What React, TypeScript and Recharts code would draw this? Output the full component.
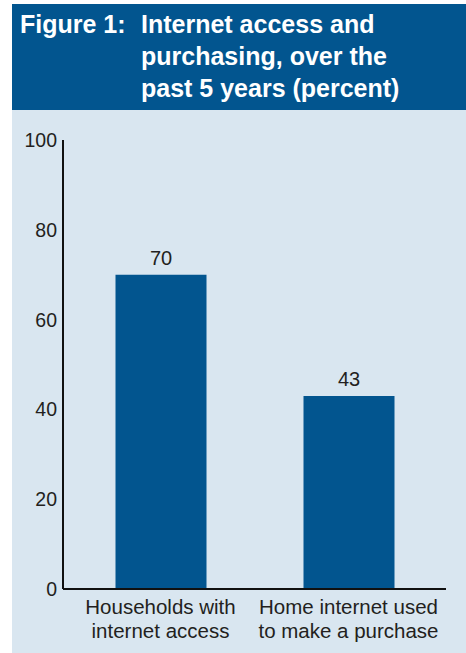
import { BarChart, Bar, XAxis, YAxis, LabelList } from 'recharts';

const categories = [
  ['Households with', 'internet access'],
  ['Home internet used', 'to make a purchase'],
];
const percentValues = [70, 43];
const yTicks = [0, 20, 40, 60, 80, 100];

const titleLead = 'Figure 1:';
const titleLines = ['Internet access and', 'purchasing, over the', 'past 5 years (percent)'];

const chartData = categories.map((lines, i) => ({
  name: lines.join(' '),
  lines,
  value: percentValues[i],
}));

const font = '"Liberation Sans", Arial, Helvetica, sans-serif';
const blue = '#02558f';
const textColor = '#231f20';

const CategoryTick = (props: any) => {
  const { x, y, payload, index } = props;
  const lines = chartData[index]?.lines ?? [payload.value];
  return (
    <text x={x} textAnchor="middle" fill={textColor} fontSize={20.5} fontFamily={font}>
      {lines.map((line: string, i: number) => (
        <tspan key={i} x={x} y={y + 25 + i * 24}>
          {line}
        </tspan>
      ))}
    </text>
  );
};

export default function App() {
  return (
    <div style={{ position: 'absolute', left: 0, top: 0, width: 466, height: 653, background: '#fff', fontFamily: font }}>
      <div style={{ position: 'absolute', left: 12, top: 4, width: 454, height: 106, background: blue, color: '#fff', fontWeight: 'bold', fontSize: 25, lineHeight: '32px' }}>
        <div style={{ position: 'absolute', left: 8, top: 4 }}>{titleLead}</div>
        <div style={{ position: 'absolute', left: 129, top: 4, whiteSpace: 'nowrap' }}>
          {titleLines.map((l) => (
            <div key={l}>{l}</div>
          ))}
        </div>
      </div>
      <div style={{ position: 'absolute', left: 12, top: 110, width: 454, height: 543, background: '#d9e6f0' }}>
        <BarChart width={454} height={543} data={chartData} margin={{ top: 30, right: 20, left: 0, bottom: 0 }}>
          <XAxis
            dataKey="name"
            height={64}
            interval={0}
            padding={{ left: 3.5, right: 3.5 }}
            tickLine={false}
            tickSize={0}
            tickMargin={0}
            axisLine={{ stroke: '#111', strokeWidth: 2 }}
            tick={<CategoryTick />}
          />
          <YAxis
            width={51}
            domain={[0, 100]}
            ticks={yTicks}
            interval={0}
            tickLine={false}
            tickSize={0}
            tickMargin={6}
            axisLine={{ stroke: '#111', strokeWidth: 2 }}
            tick={{ fill: textColor, fontSize: 19.5, fontFamily: font }}
          />
          <Bar dataKey="value" fill={blue} barSize={91} isAnimationActive={false}>
            <LabelList dataKey="value" position="top" offset={10} fill={textColor} fontSize={20} fontFamily={font} />
          </Bar>
        </BarChart>
      </div>
    </div>
  );
}
